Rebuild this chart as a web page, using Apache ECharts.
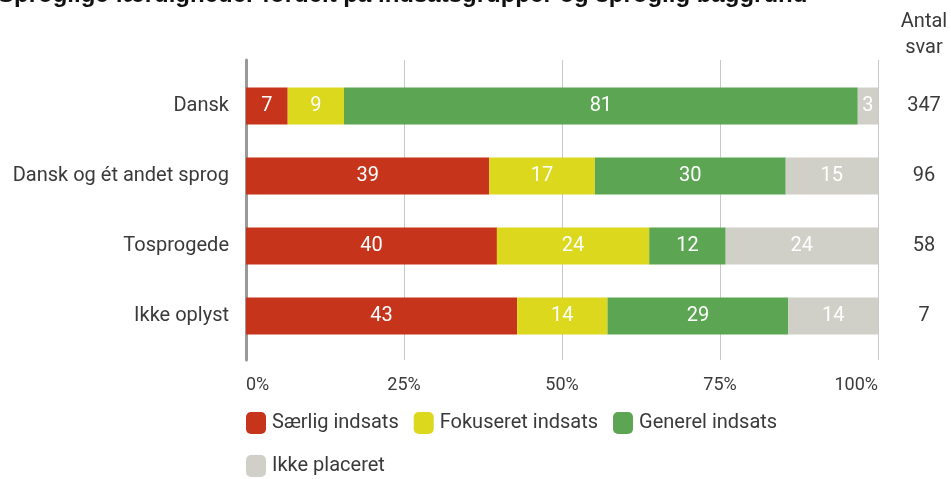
<!DOCTYPE html>
<html><head><meta charset="utf-8">
<script src="https://cdn.jsdelivr.net/npm/echarts@6/dist/echarts.min.js"></script>
<style>html,body{margin:0;padding:0;background:#fff}#c{width:951px;height:479px}</style>
</head><body><div id="c"></div>
<script>
const categories = ['Dansk', 'Dansk og ét andet sprog', 'Tosprogede', 'Ikke oplyst'];
const counts = ['347', '96', '58', '7'];
const seriesNames = ['Særlig indsats', 'Fokuseret indsats', 'Generel indsats', 'Ikke placeret'];
const saerlig = [6.6, 38.5, 39.7, 42.9];
const fokuseret = [8.9, 16.7, 24.1, 14.3];
const generel = [81.3, 30.2, 12.1, 28.6];
const ikkePlaceret = [3.2, 14.6, 24.1, 14.3];
const xTicks = [0, 25, 50, 75, 100];
const colors = ['#C5341B', '#DBD81D', '#5CA553', '#D1D0C8'];
const titleText = 'Sproglige færdigheder fordelt på indsatsgrupper og sproglig baggrund';

const FONT = 'Roboto';
const values = [saerlig, fokuseret, generel, ikkePlaceret];
const chart = echarts.init(document.getElementById('c'), null, {renderer: 'canvas'});
const series = values.map((v, i) => ({
  name: seriesNames[i], type: 'bar', stack: 'total', data: v,
  xAxisIndex: 0, yAxisIndex: 0, barWidth: 37,
  itemStyle: {color: colors[i]},
  label: {show: true, position: 'inside', color: '#fff', fontSize: 20, fontFamily: FONT,
    formatter: p => Math.round(p.value)}
}));
const legendCommon = {icon: 'roundRect', itemWidth: 20, itemHeight: 22, itemGap: 15, padding: 0,
  textStyle: {color: '#3a3a3a', fontSize: 20, fontFamily: FONT, padding: [0, 0, 0, 1]}};
chart.setOption({
  animation: false,
  textStyle: {fontFamily: FONT},
  grid: [
    {left: 246, right: 73, top: 71, height: 280},
    {left: 246, right: 73, top: 60, height: 300}
  ],
  xAxis: [
    {gridIndex: 0, type: 'value', min: 0, max: 100, interval: 25, show: false},
    {gridIndex: 1, type: 'value', min: xTicks[0], max: xTicks[xTicks.length-1], interval: 25,
      axisLine: {show: false}, axisTick: {show: false},
      splitLine: {show: true, lineStyle: {color: '#c8c8c8', width: 1}},
      axisLabel: {formatter: '{value}%', color: '#3a3a3a', fontSize: 18, margin: 16,
        alignMinLabel: 'left', alignMaxLabel: 'right'}}
  ],
  yAxis: [
    {gridIndex: 0, type: 'category', data: categories, inverse: true,
      axisLine: {show: false}, axisTick: {show: false},
      axisLabel: {color: '#3a3a3a', fontSize: 20, margin: 17}},
    {gridIndex: 0, type: 'category', data: counts, inverse: true, position: 'right',
      axisLine: {show: false}, axisTick: {show: false},
      axisLabel: {color: '#3a3a3a', fontSize: 20, margin: 46, align: 'center'}},
    {gridIndex: 1, type: 'value', min: 0, max: 1, show: true,
      axisLine: {show: true, lineStyle: {color: '#999', width: 3}},
      axisTick: {show: false}, axisLabel: {show: false}, splitLine: {show: false}}
  ],
  legend: [
    Object.assign({data: seriesNames.slice(0, 3), left: 246, top: 412}, legendCommon),
    Object.assign({data: seriesNames.slice(3), left: 246, top: 455}, legendCommon)
  ],
  graphic: [
    {type: 'text', left: -2, top: -17, style: {text: titleText, fill: '#111',
      font: 'bold 24px "Liberation Sans", Arial, sans-serif'}},
    {type: 'text', x: 924, y: 35, style: {text: 'Antal\nsvar', fill: '#3a3a3a', align: 'center',
      verticalAlign: 'middle', font: '20px Roboto', lineHeight: 26}}
  ],
  series: series
});
</script></body></html>
